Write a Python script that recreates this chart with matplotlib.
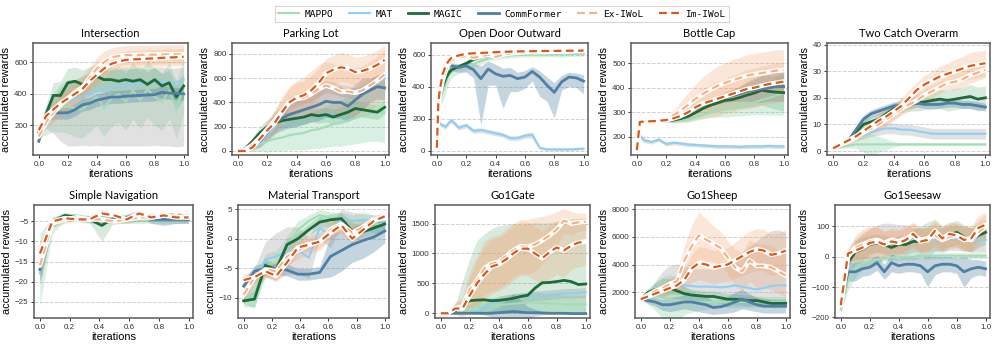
import numpy as np
import matplotlib
matplotlib.use("Agg")
import matplotlib.pyplot as plt
from matplotlib.lines import Line2D

# ---------------- data ----------------
METHODS = ["MAPPO", "MAT", "MAGIC", "CommFormer", "Ex-IWoL", "Im-IWoL"]
TITLES = ["Intersection", "Parking Lot", "Open Door Outward", "Bottle Cap", "Two Catch Overarm",
          "Simple Navigation", "Material Transport", "Go1Gate", "Go1Sheep", "Go1Seesaw"]
X_TICKS = [0.0, 0.2, 0.4, 0.6, 0.8, 1.0]

# 1 Intersection
P1_X = np.linspace(0, 1, 21)
P1_MAPPO = [150, 220, 280, 310, 320, 310, 300, 340, 380, 310, 370, 400, 350, 420, 360, 430, 380, 350, 420, 300, 450]
P1_MAPPO_SD = [30, 80, 120, 150, 170, 180, 180, 180, 180, 180, 180, 180, 180, 180, 180, 180, 180, 180, 180, 180, 180]
P1_MAT = [140, 260, 300, 330, 350, 370, 385, 400, 415, 430, 440, 450, 455, 460, 465, 470, 475, 480, 470, 475, 490]
P1_MAT_DN = [20, 80, 150, 230, 280, 300, 310, 330, 340, 360, 370, 380, 385, 390, 395, 400, 400, 410, 400, 410, 420]
P1_MAT_UP = [20, 60, 80, 100, 110, 120, 130, 130, 130, 120, 110, 100, 100, 100, 100, 90, 90, 90, 90, 90, 80]
P1_MAGIC = [160, 270, 390, 390, 470, 480, 460, 480, 510, 490, 490, 480, 490, 480, 490, 460, 490, 450, 470, 380, 450]
P1_MAGIC_SD = [20, 60, 80, 90, 90, 90, 90, 90, 80, 80, 80, 80, 80, 80, 80, 80, 80, 80, 80, 80, 80]
P1_COMM = [100, 250, 280, 280, 280, 300, 330, 340, 360, 370, 380, 380, 385, 388, 390, 393, 395, 410, 405, 402, 400]
P1_COMM_SD = [10, 30, 40, 40, 40, 40, 40, 40, 40, 40, 40, 40, 40, 40, 40, 40, 40, 40, 40, 40, 40]
P1_EX = [130, 220, 280, 330, 370, 410, 440, 500, 560, 600, 630, 640, 645, 645, 647, 648, 648, 649, 650, 650, 650]
P1_EX_SD = [20, 40, 60, 70, 70, 70, 70, 70, 70, 70, 60, 60, 60, 60, 60, 60, 60, 60, 60, 60, 60]
P1_IM = [170, 260, 300, 340, 370, 400, 430, 480, 520, 560, 590, 605, 615, 618, 620, 623, 625, 628, 630, 632, 635]
P1_IM_SD = [20, 40, 50, 60, 60, 60, 60, 60, 60, 60, 60, 55, 55, 55, 55, 55, 55, 55, 55, 55, 55]

# 2 Parking Lot
P2_X = np.linspace(0, 1, 21)
P2_MAPPO = [0, 10, 30, 60, 80, 100, 110, 130, 140, 150, 170, 180, 200, 220, 230, 250, 270, 290, 310, 320, 320]
P2_MAPPO_SD = [0, 10, 30, 60, 80, 100, 110, 120, 130, 140, 150, 160, 170, 180, 190, 200, 210, 220, 230, 240, 250]
P2_MAT = [0, 0, 30, 70, 130, 190, 300, 390, 420, 440, 460, 500, 530, 520, 500, 490, 470, 500, 540, 570, 600]
P2_MAT_SD = [0, 5, 10, 20, 30, 40, 50, 50, 50, 50, 50, 50, 50, 50, 50, 50, 50, 50, 50, 50, 50]
P2_MAGIC = [0, 20, 80, 150, 200, 230, 250, 260, 270, 280, 300, 290, 300, 280, 300, 320, 350, 340, 330, 320, 360]
P2_MAGIC_SD = [0, 10, 30, 50, 60, 60, 60, 60, 60, 60, 60, 60, 60, 60, 60, 60, 60, 60, 60, 60, 60]
P2_COMM = [0, 10, 40, 80, 150, 230, 270, 300, 320, 340, 360, 380, 410, 400, 400, 370, 420, 470, 500, 530, 520]
P2_COMM_SD = [0, 10, 30, 50, 70, 90, 100, 110, 120, 120, 120, 130, 130, 130, 130, 130, 130, 130, 100, 100, 100]
P2_EX = [0, 10, 50, 110, 180, 250, 330, 400, 430, 440, 470, 510, 540, 520, 490, 490, 480, 500, 540, 580, 630]
P2_EX_SD = [0, 10, 30, 50, 70, 90, 110, 130, 150, 170, 190, 200, 200, 200, 200, 200, 200, 200, 200, 200, 200]
P2_IM = [0, 0, 30, 100, 170, 230, 320, 400, 440, 460, 500, 560, 640, 670, 690, 680, 650, 660, 680, 710, 750]
P2_IM_SD = [0, 10, 30, 50, 70, 90, 110, 120, 120, 120, 120, 120, 120, 120, 120, 120, 120, 120, 120, 120, 120]

# 3 Open Door Outward
P3_X = [0, 0.01, 0.02, 0.04, 0.06, 0.08, 0.1, 0.15, 0.2, 0.25, 0.3, 0.35, 0.4, 0.45, 0.5,
        0.55, 0.6, 0.65, 0.7, 0.75, 0.8, 0.85, 0.9, 0.95, 1.0]
P3_MAPPO = [20, 250, 310, 370, 420, 470, 495, 515, 525, 540, 560, 575, 585, 590, 595, 598, 600, 600, 601, 602, 602, 603, 603, 604, 605]
P3_MAPPO_SD = [0, 20, 30, 60, 60, 50, 40, 30, 25, 20, 20, 15, 15, 15, 15, 15, 15, 15, 15, 15, 15, 20, 15, 15, 15]
P3_MAT = [20, 150, 170, 160, 150, 175, 190, 145, 160, 125, 130, 120, 110, 100, 80, 80, 95, 100, 20, 10, 10, 10, 10, 12, 15]
P3_MAT_SD = [0, 15, 15, 15, 15, 15, 15, 15, 15, 15, 15, 15, 15, 15, 15, 15, 15, 20, 10, 8, 8, 8, 8, 8, 8]
P3_MAGIC = [20, 270, 330, 400, 450, 485, 505, 525, 545, 570, 585, 595, 600, 605, 607, 609, 610, 611, 612, 612, 613, 613, 614, 614, 615]
P3_MAGIC_SD = [0, 20, 20, 20, 20, 20, 15, 15, 15, 10, 10, 10, 10, 10, 10, 10, 10, 10, 10, 10, 10, 10, 10, 10, 10]
P3_COMM = [20, 300, 400, 475, 505, 525, 530, 520, 530, 505, 450, 510, 480, 465, 470, 450, 460, 495, 460, 410, 365, 430, 460, 455, 435]
P3_COMM_DN = [0, 30, 30, 30, 30, 30, 30, 30, 40, 50, 290, 100, 70, 200, 100, 80, 70, 60, 120, 100, 160, 50, 60, 60, 80]
P3_COMM_UP = [0, 20, 20, 20, 20, 20, 20, 20, 30, 40, 80, 50, 60, 50, 50, 40, 40, 30, 40, 50, 60, 40, 30, 30, 40]
P3_EX = [20, 280, 350, 440, 500, 540, 565, 585, 590, 580, 590, 600, 585, 600, 608, 612, 614, 615, 616, 617, 618, 618, 619, 620, 620]
P3_EX_SD = [0, 20, 20, 25, 25, 25, 20, 15, 15, 15, 15, 15, 15, 10, 10, 10, 10, 10, 10, 10, 10, 10, 10, 10, 10]
P3_IM = [20, 300, 380, 480, 530, 560, 580, 595, 605, 608, 610, 612, 615, 617, 618, 620, 620, 621, 622, 622, 623, 623, 624, 624, 625]
P3_IM_SD = [0, 20, 20, 20, 20, 15, 15, 10, 10, 10, 10, 10, 10, 10, 10, 10, 10, 10, 10, 10, 10, 10, 10, 10, 10]

# 4 Bottle Cap
P4_X = [0, 0.02, 0.05, 0.1, 0.15, 0.2, 0.25, 0.3, 0.35, 0.4, 0.45, 0.5, 0.55, 0.6, 0.65, 0.7, 0.75, 0.8, 0.85, 0.9, 0.95, 1.0]
P4_MAPPO = [145, 255, 260, 262, 263, 264, 262, 265, 270, 278, 288, 298, 305, 310, 318, 325, 332, 340, 350, 358, 368, 378]
P4_MAPPO_SD = [0, 3, 3, 3, 3, 4, 6, 8, 10, 12, 15, 20, 25, 30, 35, 40, 45, 50, 60, 70, 80, 90]
P4_MAT = [145, 205, 185, 178, 188, 170, 175, 172, 168, 166, 164, 162, 160, 160, 160, 158, 160, 160, 160, 162, 160, 160]
P4_MAT_SD = [0, 10, 10, 8, 8, 8, 8, 8, 8, 8, 8, 8, 8, 8, 8, 8, 8, 8, 8, 8, 8, 8]
P4_MAGIC = [145, 255, 260, 262, 263, 265, 268, 274, 283, 298, 315, 328, 338, 348, 352, 360, 370, 378, 390, 385, 382, 380]
P4_MAGIC_SD = [0, 3, 3, 3, 3, 4, 6, 8, 10, 15, 20, 25, 30, 35, 40, 45, 50, 55, 60, 65, 70, 75]
P4_COMM = [145, 258, 261, 262, 264, 267, 272, 282, 295, 315, 330, 340, 350, 360, 368, 375, 385, 390, 395, 400, 405, 405]
P4_COMM_SD = [0, 3, 3, 3, 3, 5, 8, 10, 12, 15, 15, 15, 18, 20, 25, 30, 40, 50, 55, 55, 60, 60]
P4_EX = [145, 258, 262, 263, 265, 270, 288, 308, 330, 355, 375, 392, 408, 420, 430, 440, 450, 455, 460, 465, 470, 472]
P4_EX_SD = [0, 3, 3, 3, 4, 8, 20, 35, 50, 60, 70, 75, 80, 80, 85, 85, 85, 85, 85, 85, 85, 85]
P4_IM = [145, 260, 262, 263, 265, 268, 275, 285, 300, 320, 335, 345, 355, 365, 375, 385, 395, 400, 408, 415, 420, 425]
P4_IM_SD = [0, 3, 3, 3, 4, 6, 15, 25, 40, 50, 60, 65, 70, 70, 75, 75, 80, 80, 80, 80, 80, 80]

# 5 Two Catch Overarm
P5_X = np.linspace(0, 1, 21)
P5_MAPPO = [1, 1.5, 2, 2.5, 2.5, 2.5, 2.5, 2.5, 2.5, 2.5, 2.5, 2.5, 2.5, 2.5, 2.5, 2.5, 2.5, 2.5, 2.5, 2.5, 2.5]
P5_MAPPO_SD = [0.3, 0.5, 0.8, 1.5, 3, 4, 3, 2, 1, 0.5, 0.5, 0.5, 0.5, 0.5, 0.5, 0.5, 0.5, 0.5, 0.5, 0.5, 0.5]
P5_MAT = [1, 2, 3.5, 5, 6, 7, 8, 8.5, 8.5, 8, 8, 7.5, 7, 6.5, 6.5, 6.5, 6.5, 6.5, 6.5, 6.5, 6.5]
P5_MAT_SD = [0.5, 0.5, 1, 1, 1.5, 1.5, 2, 2, 2, 2, 2, 2, 2, 2, 2, 2, 2, 2, 2, 2, 2]
P5_MAGIC = [1, 2.5, 4, 7, 10, 11, 12, 14, 16, 17, 17.5, 18, 18.5, 19, 19.5, 19, 19.5, 20, 20.5, 19.5, 20]
P5_MAGIC_SD = [0.5, 0.8, 1, 1.5, 2, 2, 2, 2, 2, 2.5, 2.5, 3, 3, 3.5, 3.5, 4, 4, 4, 4.5, 4.5, 4.5]
P5_COMM = [1, 2.5, 4, 8, 12, 14, 15, 16, 17, 17, 17.5, 18, 17.5, 17.5, 17.5, 18, 18, 17.5, 17.5, 17, 16.5]
P5_COMM_SD = [0.5, 0.5, 1, 1, 1.5, 1.5, 1.5, 1.5, 1.5, 1.5, 1.5, 1.5, 1.5, 1.5, 1.5, 1.5, 1.5, 1.5, 1.5, 1.5, 1.5]
P5_EX = [1, 2.5, 3.5, 5, 7, 8.5, 10, 12, 14, 16, 17.5, 19, 21, 22.5, 24, 25.5, 26, 27, 28.5, 29.5, 30.5]
P5_EX_SD = [0.5, 0.8, 1, 1.5, 2, 2, 2.5, 2.5, 2.5, 2.5, 2.5, 2.5, 2.5, 2.5, 2.5, 2.5, 3, 3, 3, 3, 3]
P5_IM = [1, 2.5, 4, 5.5, 7.5, 9.5, 11.5, 13, 15, 17, 20, 23, 25, 26.5, 28, 29, 30, 31, 32, 32.5, 33]
P5_IM_SD = [0.5, 0.8, 1, 1.5, 2, 2.5, 3, 3, 3, 3, 3, 3, 3.5, 3.5, 4, 4, 4.5, 4.5, 5, 5, 5]

# 6 Simple Navigation
P6_X = np.linspace(0, 1, 13)
P6_MAPPO = [-17, -6, -4, -4, -4.5, -4.5, -4.5, -4.5, -4.5, -4.5, -4.5, -4.5, -4.5]
P6_MAPPO_SD = [9, 2, 1, 1, 1, 1, 1, 1, 1, 1, 1, 1, 1]
P6_MAT = [-18, -5, -4.5, -4.5, -4, -4, -4.5, -4, -3.5, -4, -4, -4, -4]
P6_MAT_SD = [3, 1, 0.5, 0.5, 0.5, 0.5, 0.5, 0.5, 0.5, 0.5, 0.5, 0.5, 0.5]
P6_MAGIC = [-16, -5, -3.5, -4, -4.5, -6, -4, -4.5, -4, -4, -4, -4, -4]
P6_MAGIC_SD = [3, 1, 0.8, 0.8, 0.8, 4, 1, 1, 1, 1, 1, 1, 1]
P6_COMM = [-17, -5.5, -4, -4, -4.5, -4.5, -4.5, -4, -3, -4.5, -4.5, -4.5, -4.5]
P6_COMM_SD = [3, 1, 0.5, 0.5, 0.5, 0.5, 0.5, 0.8, 0.8, 1, 1.5, 1, 1]
P6_EX = [-16, -5.5, -4.5, -4, -4.5, -4.5, -5, -4.5, -4, -4, -3.5, -3, -4]
P6_EX_SD = [4, 1, 1, 0.8, 0.8, 0.8, 0.8, 0.8, 0.8, 0.8, 0.8, 0.8, 0.8]
P6_IM = [-13, -5, -4.2, -4.5, -4.5, -3, -3.5, -4.5, -3, -4, -3.5, -4, -4]
P6_IM_SD = [3, 1, 0.5, 0.5, 0.5, 0.5, 0.5, 0.5, 0.5, 0.5, 0.5, 0.5, 0.5]

# 7 Material Transport
P7_X = np.linspace(0, 1, 14)
P7_MAPPO = [-10.5, -9.5, -4.5, -4, -1.5, 1.5, 3, 4, 3.5, 3.5, 3, 3, 2.5, 2.5]
P7_MAPPO_SD = [1, 2, 2, 2, 2, 1.5, 1, 1, 1, 1, 1, 1.5, 1.5, 1.5]
P7_MAT = [-9.5, -7, -3.5, -3, -2, -2, -3.2, 1.8, 0.5, 3.5, 3, 3.2, 3, 3]
P7_MAT_SD = [1.5, 2, 3, 4, 4, 4, 3.5, 2, 2, 1.5, 1.5, 1, 1, 1]
P7_MAGIC = [-10.5, -10.2, -4.5, -5.2, -1, 0, 1.5, 2.8, 3.2, 3.4, 1.3, 1.2, 1.8, 2.5]
P7_MAGIC_SD = [0.5, 1.5, 1, 1, 1, 1, 1, 1, 1, 1, 1.5, 1, 1, 1]
P7_COMM = [-8, -5.5, -5, -5, -5.3, -6, -6, -5.7, -3, -2, -1, -0.3, 0.3, 1.3]
P7_COMM_SD = [1, 1, 1, 1, 1, 1, 1, 1, 3.5, 3.5, 3, 3, 2.5, 2]
P7_EX = [-9.5, -6.5, -5.2, -5.5, -3, -2, -1, -0.5, 1.5, 2.5, 1, 2, 3.3, 3.5]
P7_EX_SD = [1.5, 1, 1, 1.5, 1.5, 1.5, 1.5, 1.5, 1.5, 1.5, 1.5, 1, 0.5, 0.5]
P7_IM = [-7, -6.5, -5.5, -6.3, -4, -1.5, -1, -0.5, 1, 2.3, 0, 1.5, 3, 3.8]
P7_IM_SD = [1, 1, 1, 1, 1, 1, 1, 1, 1, 1, 1, 1, 0.5, 0.5]

# 8 Go1Gate
P8_X = np.linspace(0, 1, 21)
P8_MAPPO = [0, 0, 20, 50, 80, 100, 120, 130, 140, 150, 160, 170, 180, 180, 170, 160, 160, 150, 150, 150, 150]
P8_MAPPO_SD = [0, 0, 20, 50, 80, 100, 120, 130, 140, 150, 160, 170, 180, 180, 170, 160, 160, 150, 150, 150, 150]
P8_MAT = [0, 0, 0, 0, 10, 40, 100, 150, 200, 230, 250, 260, 270, 290, 300, 310, 320, 330, 335, 340, 350]
P8_MAT_SD = [0, 0, 0, 0, 10, 30, 60, 80, 80, 80, 80, 80, 80, 80, 80, 80, 80, 80, 80, 80, 80]
P8_MAGIC = [0, 0, 40, 150, 210, 220, 225, 210, 215, 230, 250, 280, 300, 420, 510, 515, 530, 550, 530, 480, 490]
P8_MAGIC_DN = [0, 0, 40, 150, 210, 220, 225, 210, 215, 230, 250, 280, 300, 420, 510, 515, 530, 550, 530, 480, 490]
P8_MAGIC_UP = [0, 10, 100, 400, 700, 1000, 1100, 1200, 1250, 1250, 1250, 1200, 1200, 1100, 1000, 1000, 1000, 1000, 1050, 1100, 1100]
P8_COMM = [0, 0, 0, 0, 0, 0, 0, 0, 10, 20, 30, 20, 10, 10, 5, 0, 0, 0, -5, -5, -5]
P8_COMM_SD = [0, 0, 0, 0, 0, 10, 30, 60, 100, 200, 300, 200, 100, 60, 30, 20, 10, 10, 10, 10, 10]
P8_EX = [0, 10, 80, 120, 400, 550, 750, 830, 860, 950, 1050, 1120, 1110, 1150, 1220, 1300, 1400, 1550, 1500, 1520, 1530]
P8_EX_SD = [0, 20, 100, 150, 300, 400, 450, 450, 450, 450, 450, 450, 450, 450, 400, 350, 300, 200, 200, 150, 150]
P8_IM = [0, 0, 80, 80, 300, 500, 650, 780, 820, 900, 1000, 1080, 1080, 1000, 920, 1020, 1100, 1050, 1130, 1180, 1200]
P8_IM_SD = [0, 20, 100, 150, 300, 400, 450, 450, 450, 450, 450, 450, 450, 450, 450, 450, 450, 450, 400, 400, 400]

# 9 Go1Sheep
P9_X = np.linspace(0, 1, 21)
P9_MAPPO = [1500, 1600, 1700, 1600, 1500, 1400, 1400, 1350, 1300, 1300, 1300, 1300, 1300, 1300, 1300, 1300, 1300, 1300, 1300, 1300, 1300]
P9_MAPPO_SD = [0, 500, 1000, 1500, 1800, 1500, 1000, 800, 600, 500, 400, 400, 400, 400, 400, 400, 400, 400, 400, 400, 400]
P9_MAT = [1500, 1700, 2000, 2300, 2550, 2550, 2500, 2450, 2400, 2400, 2400, 2350, 2400, 2500, 2400, 2300, 2200, 2300, 2450, 2500, 2500]
P9_MAT_DN = [0, 200, 400, 600, 700, 700, 700, 700, 700, 700, 700, 700, 700, 800, 900, 1000, 1000, 1000, 1000, 1000, 1000]
P9_MAT_UP = [0, 300, 800, 1200, 1400, 1500, 1400, 1300, 1300, 1300, 1300, 1400, 1600, 2000, 2500, 3000, 3500, 3800, 4000, 4000, 3800]
P9_MAGIC = [1500, 2000, 2200, 2300, 2300, 2100, 1900, 1800, 1750, 1700, 1700, 1600, 1500, 1500, 1450, 1400, 1400, 1300, 1200, 1200, 1200]
P9_MAGIC_SD = [0, 300, 500, 700, 700, 600, 500, 400, 400, 400, 400, 400, 400, 400, 400, 400, 300, 300, 300, 300, 300]
P9_COMM = [1500, 1400, 1300, 1100, 1100, 1200, 1300, 1300, 1200, 1100, 900, 950, 1100, 1300, 1500, 1300, 1100, 1000, 1000, 1000, 1000]
P9_COMM_SD = [0, 200, 300, 400, 500, 500, 500, 600, 600, 600, 500, 500, 600, 700, 700, 600, 500, 500, 500, 500, 500]
P9_EX = [1500, 1800, 2100, 2300, 2600, 2800, 4300, 5300, 6100, 5800, 5500, 5200, 4500, 3800, 3500, 4300, 3900, 3900, 3800, 3500, 3200]
P9_EX_SD = [0, 100, 200, 300, 400, 600, 1000, 1500, 1700, 1500, 1300, 1200, 1200, 1300, 1400, 1500, 1600, 1600, 1600, 1600, 1500]
P9_IM = [1500, 1700, 1900, 2100, 2300, 2500, 2900, 3700, 4100, 4000, 3800, 3900, 4000, 4300, 4600, 4900, 5100, 5000, 4700, 4800, 5000]
P9_IM_SD = [0, 100, 200, 300, 400, 500, 700, 1000, 1200, 1200, 1200, 1200, 1200, 1300, 1400, 1500, 1500, 1500, 1500, 1500, 1500]

# 10 Go1Seesaw
P10_X = np.linspace(0, 1, 21)
P10_MAPPO = [-175, -80, -40, -20, -15, -10, -5, -3, -2, 0, 0, 2, 2, 3, 3, 3, 3, 3, 3, 3, 3]
P10_MAPPO_SD = [10, 30, 30, 20, 15, 10, 10, 10, 10, 10, 10, 10, 10, 10, 10, 10, 10, 10, 10, 10, 10]
P10_MAT = [-160, -10, 20, 35, 40, 45, 50, 50, 55, 55, 55, 55, 55, 55, 55, 60, 60, 60, 55, 55, 55]
P10_MAT_SD = [0, 20, 30, 40, 50, 60, 60, 60, 50, 50, 40, 40, 40, 40, 40, 40, 40, 40, 40, 40, 40]
P10_MAGIC = [-160, -20, 15, 25, 40, 45, 40, 30, 40, 40, 50, 50, 55, 70, 60, 70, 80, 65, 55, 70, 80]
P10_MAGIC_SD = [0, 30, 40, 40, 30, 30, 30, 30, 30, 30, 40, 50, 60, 50, 40, 40, 40, 40, 40, 40, 40]
P10_COMM = [-160, -50, -50, -40, -35, -20, -50, -20, -30, -25, -25, -30, -50, -30, -25, -25, -30, -50, -40, -35, -40]
P10_COMM_SD = [0, 30, 30, 25, 25, 25, 25, 30, 25, 25, 25, 25, 50, 30, 25, 25, 25, 50, 30, 25, 25]
P10_EX = [-160, 0, 30, 40, 50, 55, 45, 55, 50, 60, 70, 55, 60, 70, 55, 65, 70, 60, 55, 80, 100]
P10_EX_SD = [0, 20, 40, 50, 50, 40, 40, 40, 40, 40, 40, 40, 40, 40, 40, 40, 40, 40, 40, 40, 40]
P10_IM = [-160, 10, 20, 30, 45, 50, 40, 50, 45, 55, 75, 50, 55, 85, 60, 75, 70, 55, 60, 95, 105]
P10_IM_SD = [0, 20, 40, 50, 50, 50, 40, 40, 40, 40, 40, 40, 40, 40, 40, 40, 40, 40, 40, 40, 40]

Y_TICKS = [[200, 400, 600], [0, 200, 400, 600, 800], [0, 200, 400, 600], [200, 300, 400, 500],
           [0, 10, 20, 30, 40], [-25, -20, -15, -10, -5], [-10, -5, 0, 5],
           [0, 500, 1000, 1500], [2000, 4000, 6000, 8000], [-200, -100, 0, 100]]
Y_LIMS = [(13, 722), (-33, 890), (-25, 672), (125, 583), (-1.5, 40.6),
          (-29.1, -0.9), (-13.4, 5.7), (-79, 1810), (145, 8290), (-202, 170)]

PANELS = [
    (P1_X, [(P1_MAPPO, P1_MAPPO_SD), (P1_MAT, (P1_MAT_DN, P1_MAT_UP)), (P1_MAGIC, P1_MAGIC_SD),
            (P1_COMM, P1_COMM_SD), (P1_EX, P1_EX_SD), (P1_IM, P1_IM_SD)]),
    (P2_X, [(P2_MAPPO, P2_MAPPO_SD), (P2_MAT, P2_MAT_SD), (P2_MAGIC, P2_MAGIC_SD),
            (P2_COMM, P2_COMM_SD), (P2_EX, P2_EX_SD), (P2_IM, P2_IM_SD)]),
    (P3_X, [(P3_MAPPO, P3_MAPPO_SD), (P3_MAT, P3_MAT_SD), (P3_MAGIC, P3_MAGIC_SD),
            (P3_COMM, (P3_COMM_DN, P3_COMM_UP)), (P3_EX, P3_EX_SD), (P3_IM, P3_IM_SD)]),
    (P4_X, [(P4_MAPPO, P4_MAPPO_SD), (P4_MAT, P4_MAT_SD), (P4_MAGIC, P4_MAGIC_SD),
            (P4_COMM, P4_COMM_SD), (P4_EX, P4_EX_SD), (P4_IM, P4_IM_SD)]),
    (P5_X, [(P5_MAPPO, P5_MAPPO_SD), (P5_MAT, P5_MAT_SD), (P5_MAGIC, P5_MAGIC_SD),
            (P5_COMM, P5_COMM_SD), (P5_EX, P5_EX_SD), (P5_IM, P5_IM_SD)]),
    (P6_X, [(P6_MAPPO, P6_MAPPO_SD), (P6_MAT, P6_MAT_SD), (P6_MAGIC, P6_MAGIC_SD),
            (P6_COMM, P6_COMM_SD), (P6_EX, P6_EX_SD), (P6_IM, P6_IM_SD)]),
    (P7_X, [(P7_MAPPO, P7_MAPPO_SD), (P7_MAT, P7_MAT_SD), (P7_MAGIC, P7_MAGIC_SD),
            (P7_COMM, P7_COMM_SD), (P7_EX, P7_EX_SD), (P7_IM, P7_IM_SD)]),
    (P8_X, [(P8_MAPPO, P8_MAPPO_SD), (P8_MAT, P8_MAT_SD), (P8_MAGIC, (P8_MAGIC_DN, P8_MAGIC_UP)),
            (P8_COMM, P8_COMM_SD), (P8_EX, P8_EX_SD), (P8_IM, P8_IM_SD)]),
    (P9_X, [(P9_MAPPO, P9_MAPPO_SD), (P9_MAT, (P9_MAT_DN, P9_MAT_UP)), (P9_MAGIC, P9_MAGIC_SD),
            (P9_COMM, P9_COMM_SD), (P9_EX, P9_EX_SD), (P9_IM, P9_IM_SD)]),
    (P10_X, [(P10_MAPPO, P10_MAPPO_SD), (P10_MAT, P10_MAT_SD), (P10_MAGIC, P10_MAGIC_SD),
             (P10_COMM, P10_COMM_SD), (P10_EX, P10_EX_SD), (P10_IM, P10_IM_SD)]),
]

# ---------------- style ----------------
LINE_COLORS = ["#a3dcb7", "#8fcff7", "#1d6b38", "#4f7fa3", "#f4b386", "#d9591a"]
BAND_COLORS = ["#7fcf9c", "#b4b4b4", "#3c9a5e", "#5a87a8", "#f0a06a", "#f0a06a"]
BAND_ALPHA = [0.3, 0.4, 0.2, 0.35, 0.25, 0.25]
LINE_W = [1.5, 1.5, 2.0, 2.0, 1.6, 1.6]

W, H = 996, 347
AX_PX = [(33, 43, 155, 112), (232, 43, 157, 112), (431, 43, 157, 112), (631, 43, 157, 112), (827, 43, 163, 112),
         (34, 205, 159, 113), (238, 205, 151, 113), (435, 205, 155, 113), (635, 205, 155, 113), (835, 205, 155, 113)]

fig = plt.figure(figsize=(W / 100, H / 100), dpi=100)

for i, (x, series) in enumerate(PANELS):
    l, t, w, h = AX_PX[i]
    ax = fig.add_axes([l / W, 1 - (t + h) / H, w / W, h / H])
    x = np.asarray(x, dtype=float)
    for j, (m, sd) in enumerate(series):
        m = np.asarray(m, dtype=float)
        if isinstance(sd, tuple):
            dn, up = np.asarray(sd[0], float), np.asarray(sd[1], float)
        else:
            dn = up = np.asarray(sd, float)
        ax.fill_between(x, m - dn, m + up, color=BAND_COLORS[j], alpha=BAND_ALPHA[j], lw=0, zorder=1)
    for j, (m, sd) in enumerate(series):
        if j >= 4:
            ax.plot(x, m, color="white", lw=3.4, zorder=3 + j, solid_capstyle="round")
            ax.plot(x, m, color=LINE_COLORS[j], lw=LINE_W[j], ls=(0, (3.5, 2)), zorder=3 + j)
        else:
            ax.plot(x, m, color=LINE_COLORS[j], lw=LINE_W[j], zorder=3 + j)
    ax.set_xlim(-0.04, 1.03)
    ax.set_ylim(*Y_LIMS[i])
    ax.set_xticks(X_TICKS)
    ax.set_xticklabels([f"{v:.1f}" for v in X_TICKS])
    ax.set_yticks(Y_TICKS[i])
    ax.tick_params(labelsize=5.8, length=2.5, width=0.7, pad=1.5, colors="#333333")
    for lab in ax.get_xticklabels() + ax.get_yticklabels():
        lab.set_family("Liberation Sans")
    ax.grid(axis="y", ls="--", color="#d0d0d0", lw=0.7, zorder=0)
    ax.set_axisbelow(True)
    for s in ax.spines.values():
        s.set_color("#5a5a5a")
        s.set_linewidth(1.1)
    ax.set_title(TITLES[i], fontsize=8, family="Lato", pad=4)
    ax.set_xlabel("iterations", fontsize=7.9, family="Liberation Sans", labelpad=1)
    ax.set_ylabel("accumulated rewards", fontsize=7.9, family="Liberation Sans", labelpad=2)

handles = []
for j, name in enumerate(METHODS):
    if j >= 4:
        handles.append(Line2D([], [], color=LINE_COLORS[j], lw=1.6, ls=(0, (3.5, 2))))
    else:
        handles.append(Line2D([], [], color=LINE_COLORS[j], lw=LINE_W[j]))
leg = fig.legend(handles, METHODS, loc="upper center", bbox_to_anchor=(0.504, 0.995), ncol=6,
                 prop={"family": "DejaVu Sans Mono", "size": 6.8}, frameon=True, fancybox=False,
                 handlelength=2.2, columnspacing=1.6, borderpad=0.35, handletextpad=0.6)
leg.get_frame().set_edgecolor("#cccccc")
leg.get_frame().set_linewidth(0.8)

fig.savefig("out.png", dpi=100)
